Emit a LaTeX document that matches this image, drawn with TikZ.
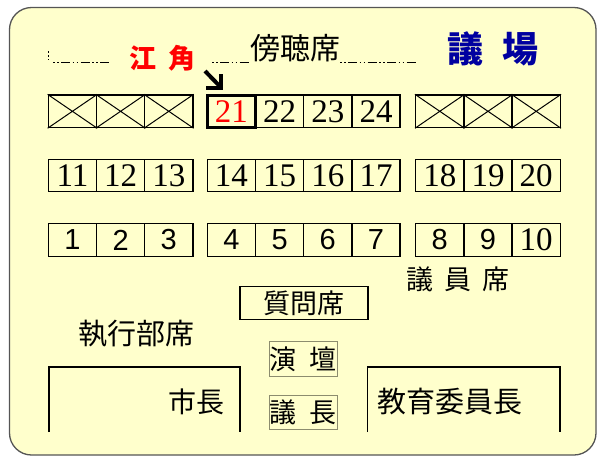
\documentclass[tikz,border=0pt]{standalone}
\usepackage{fontspec}
\setmainfont{Liberation Serif}
\newfontfamily\cjk{Noto Sans CJK JP}
\newfontfamily\arial{Liberation Sans}
\usetikzlibrary{calc}
\definecolor{bg}{RGB}{255,255,204}
\definecolor{navy}{RGB}{0,0,160}
\definecolor{framegray}{RGB}{85,85,85}
\definecolor{thinframe}{RGB}{140,140,110}
\begin{document}
\begin{tikzpicture}[x=1pt,y=-1pt,
  seat/.style={draw, line width=1.4pt, minimum width=48.2pt, minimum height=32.5pt, inner sep=0pt, font=\fontsize{33}{33}\selectfont},
  sseat/.style={seat, font=\arial\fontsize{29}{29}\selectfont},
  xseat/.style={draw, line width=1.4pt, minimum width=48.2pt, minimum height=32.5pt, inner sep=0pt},
  lbl/.style={inner sep=0pt, font=\cjk\fontsize{28}{28}\selectfont},
  dashline/.style={line width=1.1pt, dash pattern=on 1.5pt off 2.5pt on 1.5pt off 2.5pt on 9pt off 2.5pt},
  openbox/.style={line width=1.5pt},
  smallbox/.style={draw=thinframe, line width=0.8pt, minimum width=68pt, minimum height=34.3pt, inner sep=0pt, font=\cjk\fontsize{27}{27}\selectfont},
]
\useasboundingbox (0,0) rectangle (602,459);
\draw[fill=bg, draw=framegray, line width=1.3pt, rounded corners=22pt] (9.5,7.5) rectangle (596,455);

% row 1 crossed boxes
\foreach \i in {0,1,2} {
  \node[xseat] (xl\i) at ({72.4+48.2*\i},111.3) {};
  \draw[line width=1pt] (xl\i.north west) -- (xl\i.south east) (xl\i.south west) -- (xl\i.north east);
  \node[xseat] (xr\i) at ({439.8+48.2*\i},111.3) {};
  \draw[line width=1pt] (xr\i.north west) -- (xr\i.south east) (xr\i.south west) -- (xr\i.north east);
}
% row 1 seats
\foreach \n [count=\i from 1] in {22,23,24} {
  \node[seat] (s\n) at ({231.4+48.2*\i},111.3) {\n};
}
\node[seat, line width=3pt, text=red] (s21) at (231.4,111.3) {21};

% row 2
\foreach \n [count=\i from 0] in {11,12,13} {
  \node[seat] (s\n) at ({72.4+48.2*\i},175.5) {\n};
}
\foreach \n [count=\i from 0] in {14,15,16,17} {
  \node[seat] (s\n) at ({231.4+48.2*\i},175.5) {\n};
}
\foreach \n [count=\i from 0] in {18,19,20} {
  \node[seat] (s\n) at ({439.8+48.2*\i},175.5) {\n};
}
% row 3
\foreach \n [count=\i from 0] in {1,2,3} {
  \node[sseat] (s\n) at ({72.4+48.2*\i},240) {\n};
}
\foreach \n [count=\i from 0] in {4,5,6,7} {
  \node[sseat] (s\n) at ({231.4+48.2*\i},240) {\n};
}
\foreach \n [count=\i from 0] in {8,9} {
  \node[sseat] (s\n) at ({439.8+48.2*\i},240) {\n};
}
\node[seat] (s10) at (536.2,240) {10};

% gallery line
\draw[line width=1pt, dash pattern=on 2pt off 2pt] (48.5,51) -- (48.5,60);
\draw[dashline] (53,62.7) -- (111,62.7);
\draw[dashline] (212,62.7) -- (250,62.7);
\draw[dashline] (340,62.7) -- (417,62.7);

% arrow
\coordinate (ar0) at (205,71);
\coordinate (ar1) at (221,87.5);
\draw[line width=4pt] (ar0) -- (ar1);
\draw[line width=4pt, line join=miter] ($(ar1)+(0,-13.5)$) -- (ar1) -- ($(ar1)+(-15,0)$);

% labels
\node[lbl, font=\cjk\bfseries\fontsize{27}{27}\selectfont, text=red] (ejiri) at (162.5,58.5) {江\hspace{13pt}角};
\node[lbl, font=\cjk\fontsize{30}{30}\selectfont] (bocho) at (295,48) {傍聴席};
\node[lbl, font=\cjk\bfseries\fontsize{36}{36}\selectfont, text=navy] (gijo) at (493,48.5) {議\hspace{19pt}場};
\node[lbl, font=\cjk\fontsize{27}{27}\selectfont] (giin) at (458,279.5) {議\hspace{11pt}員\hspace{11pt}席};
\node[draw, line width=1.4pt, minimum width=128pt, minimum height=32.5pt, inner sep=0pt, font=\cjk\fontsize{27}{27}\selectfont] (shitsumon) at (304,303) {質問席};
\node[lbl, font=\cjk\fontsize{29}{29}\selectfont] (shikko) at (136,333.5) {執行部席};

\draw[openbox] (49,432) -- (49,367) -- (240,367) -- (240,432);
\draw[openbox] (367.7,432) -- (367.7,367) -- (560,367) -- (560,432);
\node[lbl, anchor=east] (shicho) at (225,401.5) {市長};
\node[lbl, font=\cjk\fontsize{29}{29}\selectfont, anchor=west] (kyoiku) at (377,401.5) {教育委員長};

\node[smallbox] (endan) at (303,359) {演\hspace{14pt}壇};
\node[smallbox] (gicho) at (303,412.2) {議\hspace{14pt}長};
\end{tikzpicture}
\end{document}
